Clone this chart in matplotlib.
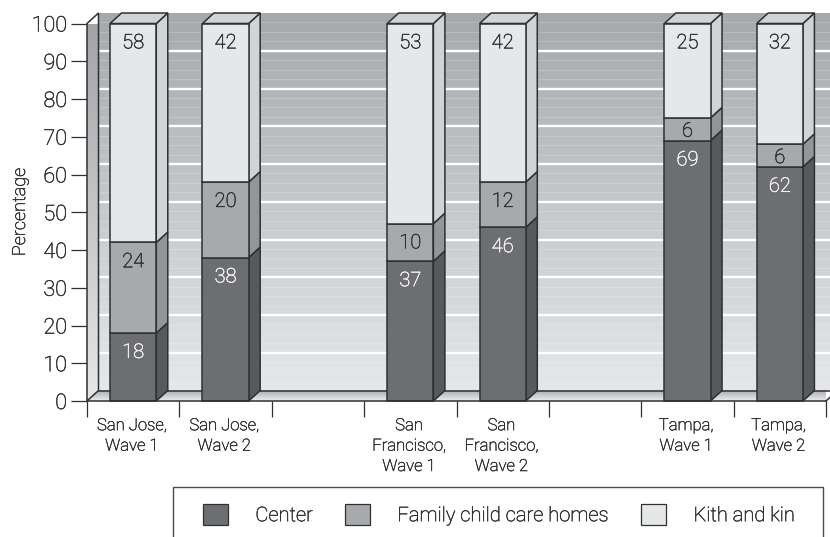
import numpy as np
import matplotlib
matplotlib.use("Agg")
import matplotlib.pyplot as plt
import matplotlib.patheffects as pe
from matplotlib.patches import Polygon, Rectangle, Patch
from matplotlib.text import Text

labels = ["San Jose,\nWave 1", "San Jose,\nWave 2", "", "San\nFrancisco,\nWave 1",
          "San\nFrancisco,\nWave 2", "", "Tampa,\nWave 1", "Tampa,\nWave 2"]
center = [18, 38, None, 37, 46, None, 69, 62]
family = [24, 20, None, 10, 12, None, 6, 6]
kith = [58, 42, None, 53, 42, None, 25, 32]
series_names = ["Center", "Family child care homes", "Kith and kin"]

W, H = 830, 537
X0, X1, Y0, Y1 = 87, 826, 401, 23.5
plt.rcParams["font.family"] = ["Roboto", "DejaVu Sans"]
plt.rcParams["font.weight"] = "light"
TXT = "#2f3032"
EDGE = "#2f3032"
fig = plt.figure(figsize=(W/100, H/100), dpi=100)
ax = fig.add_axes([X0/W, 1-Y0/H, (X1-X0)/W, (Y0-Y1)/H])
ax.set_xlim(0, 8)
ax.set_ylim(0, 100)
ax.patch.set_visible(False)
for s in ax.spines.values():
    s.set_visible(False)

ux = (X1-X0)/8
uy = (Y0-Y1)/100
dx = 11.5/ux
dy = 10.5/uy
lw = 1.1

def grad(ext, c_top, c_bot, z=1):
    t = np.linspace(0, 1, 256)[:, None, None]
    a = np.array(matplotlib.colors.to_rgb(c_top))[None, None, :]
    b = np.array(matplotlib.colors.to_rgb(c_bot))[None, None, :]
    return ax.imshow(a*(1-t)+b*t, extent=ext, origin="upper", aspect="auto", zorder=z)

xmax = (830-X0)/ux
# back wall
grad([dx, xmax, dy, 100+dy], "#a6a8ab", "#e6e7e8", z=1).set_clip_on(False)
ax.set_xlim(0, 8); ax.set_ylim(0, 100)
for v in np.arange(2.5, 100, 2.5):
    major = abs(v % 10) < 1e-6
    ax.plot([dx, xmax], [v+dy, v+dy], color="white",
            lw=1.7 if major else 0.6, alpha=1 if major else 0.22, zorder=2, clip_on=False)
# left wall
wall = Polygon([[0, 0], [dx, dy], [dx, 100+dy], [0, 100]], closed=True, transform=ax.transData,
               facecolor="none", edgecolor="none")
ax.add_patch(wall); wall.set_clip_on(False)
im = grad([0, dx, 0, 100+dy], "#a0a2a5", "#e6e7e8", z=2)
im.set_clip_path(wall)
ax.add_patch(Polygon([[0, 0], [dx, dy], [dx, 100+dy], [0, 100]], closed=True, facecolor="none",
                     edgecolor=EDGE, lw=lw, zorder=3, clip_on=False))
# floor
fl = Polygon([[0, 0], [dx, dy], [xmax, dy], [xmax, 0]], closed=True, transform=ax.transData,
             facecolor="none", edgecolor="none")
ax.add_patch(fl); fl.set_clip_on(False)
im = grad([0, xmax, 0, dy], "#a9abae", "#ececed", z=2)
im.set_clip_path(fl)
ax.plot([dx, xmax], [dy, dy], color=EDGE, lw=lw, zorder=3, clip_on=False)
ax.plot([8, 8+dx*0.4], [0, dy*0.4], color=EDGE, lw=lw, zorder=3, clip_on=False)

styles = [("#6d6e71", "#58595b", "#f4f4f4"),
          ("#a7a9ac", "#939598", TXT),
          ("#e6e7e8", "#d1d3d4", TXT)]
bw = 0.5
for i in range(8):
    if center[i] is None:
        continue
    x = i+0.25
    base = 0
    for vals, (f, sd, tc) in zip((center, family, kith), styles):
        h = vals[i]
        top = base+h
        ax.bar(x, h, bw, bottom=base, align="edge", color=f, edgecolor=EDGE, lw=lw, zorder=5, clip_on=False)
        ax.add_patch(Polygon([[x+bw, base], [x+bw+dx, base+dy], [x+bw+dx, top+dy], [x+bw, top]], closed=True,
                             facecolor=sd, edgecolor=EDGE, lw=lw, zorder=4, clip_on=False))
        off = min(4.6, h/2)
        ax.text(x+bw/2, top-off, str(h), ha="center", va="center_baseline", color=tc, fontsize=14.5, zorder=7)
        base = top
    ax.add_patch(Polygon([[x, base], [x+dx, base+dy], [x+bw+dx, base+dy], [x+bw, base]], closed=True,
                         facecolor="#d1d3d4", edgecolor=EDGE, lw=lw, zorder=4, clip_on=False))

ax.plot([0, 8], [0, 0], color=EDGE, lw=lw, zorder=6, clip_on=False)
ax.set_yticks(np.arange(0, 101, 10))
ax.set_xticks(np.arange(0, 9))
ax.set_xticklabels([])
ax.tick_params(axis="y", length=11.5, width=0.9, color=EDGE, labelsize=15.5, labelcolor=TXT, pad=3)
ax.tick_params(axis="x", length=11.5, width=0.9, color=EDGE)
ax.set_ylabel("Percentage", fontsize=13, color=TXT, fontweight="light")
ax.yaxis.set_label_coords((29-X0)/(X1-X0), 0.5)
trans = ax.get_xaxis_transform()
for i, l in enumerate(labels):
    if l:
        ax.annotate(l, (i+0.5, 0), xycoords=trans, xytext=(-1, -12.4), textcoords="offset points",
                    ha="center", va="top", fontsize=12, color=TXT, linespacing=1.45,
                    annotation_clip=False)

# legend
fig.add_artist(Rectangle((173/W, -0.02), (823-173)/W, 1-487/H+0.02, transform=fig.transFigure,
                         facecolor="white", edgecolor="#4a4b4d", lw=1.0))
handles = [Patch(facecolor=s[0], edgecolor=EDGE, lw=0.9, label=n) for s, n in zip(styles, series_names)]
leg = fig.legend(handles=handles, ncol=3, loc="center left", bbox_to_anchor=(203/W, 1-514.5/H), frameon=False,
                 fontsize=14.5, handlelength=1.25, handleheight=1.25, handletextpad=1.35,
                 columnspacing=1.6, borderpad=0, borderaxespad=0, labelcolor=TXT)

# the reference type is a little heavier than Roboto Light
for t in fig.findobj(Text):
    t.set_path_effects([pe.withStroke(linewidth=0.35, foreground=t.get_color())])

fig.savefig("out.png", dpi=100)
